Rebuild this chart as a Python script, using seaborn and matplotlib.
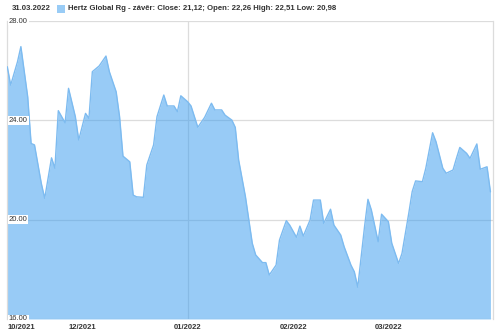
import matplotlib
matplotlib.use("Agg")
import matplotlib.pyplot as plt
import seaborn as sns
import pandas as pd

dates = [
    "2021-11-09", "2021-11-10", "2021-11-12", "2021-11-13", "2021-11-15", "2021-11-16",
    "2021-11-17", "2021-11-19", "2021-11-20", "2021-11-22", "2021-11-23", "2021-11-24",
    "2021-11-26", "2021-11-27", "2021-11-29", "2021-11-30", "2021-12-02", "2021-12-03",
    "2021-12-04", "2021-12-06", "2021-12-08", "2021-12-09", "2021-12-11", "2021-12-12",
    "2021-12-13", "2021-12-15", "2021-12-16", "2021-12-17", "2021-12-19", "2021-12-20",
    "2021-12-22", "2021-12-23", "2021-12-25", "2021-12-26", "2021-12-28", "2021-12-29",
    "2021-12-30", "2022-01-01", "2022-01-02", "2022-01-04", "2022-01-06", "2022-01-08",
    "2022-01-09", "2022-01-11", "2022-01-12", "2022-01-14", "2022-01-15", "2022-01-16",
    "2022-01-17", "2022-01-18", "2022-01-20", "2022-01-21", "2022-01-23", "2022-01-24",
    "2022-01-25", "2022-01-27", "2022-01-28", "2022-01-30", "2022-01-31", "2022-02-02",
    "2022-02-03", "2022-02-04", "2022-02-06", "2022-02-07", "2022-02-09", "2022-02-10",
    "2022-02-12", "2022-02-13", "2022-02-15", "2022-02-16", "2022-02-18", "2022-02-19",
    "2022-02-20", "2022-02-22", "2022-02-23", "2022-02-24", "2022-02-26", "2022-02-27",
    "2022-03-01", "2022-03-02", "2022-03-04", "2022-03-05", "2022-03-07", "2022-03-08",
    "2022-03-09", "2022-03-11", "2022-03-12", "2022-03-14", "2022-03-15", "2022-03-17",
    "2022-03-18", "2022-03-20", "2022-03-21", "2022-03-22", "2022-03-24", "2022-03-25",
    "2022-03-27", "2022-03-28", "2022-03-30", "2022-03-31",
]
close = [
    26.16, 25.42, 26.36, 26.97, 24.95, 23.07,
    23.01, 21.46, 20.86, 22.49, 22.07, 24.39,
    23.90, 25.29, 24.15, 23.21, 24.28, 24.08,
    25.96, 26.19, 26.59, 25.96, 25.15, 24.15,
    22.56, 22.33, 20.99, 20.92, 20.90, 22.20,
    23.01, 24.15, 25.02, 24.58, 24.58, 24.35,
    24.99, 24.75, 24.58, 23.72, 24.12, 24.69,
    24.42, 24.42, 24.21, 24.01, 23.72, 22.40,
    21.66, 20.92, 19.05, 18.58, 18.27, 18.27,
    17.77, 18.17, 19.18, 19.96, 19.78, 19.29,
    19.74, 19.34, 19.99, 20.79, 20.79, 19.85,
    20.42, 19.78, 19.38, 18.91, 18.17, 17.90,
    17.28, 19.72, 20.82, 20.39, 19.11, 20.22,
    19.92, 19.05, 18.24, 18.64, 20.26, 21.13,
    21.56, 21.53, 22.07, 23.50, 23.14, 22.07,
    21.87, 22.00, 22.47, 22.91, 22.67, 22.47,
    23.05, 22.03, 22.13, 21.12,
]
y_ticks = [16, 20, 24, 28]
x_tick_dates = ["2021-11-09", "2021-12-01", "2022-01-01", "2022-02-01", "2022-03-01"]
x_tick_labels = ["10/2021", "12/2021", "01/2022", "02/2022", "03/2022"]
header_date = "31.03.2022"
legend_text = "Hertz Global Rg - závěr: Close: 21,12; Open: 22,26 High: 22,51 Low: 20,98"

df = pd.DataFrame({"date": pd.to_datetime(dates), "close": close})

sns.set_theme(style="white")
plt.rcParams["font.family"] = ["Liberation Sans", "DejaVu Sans"]

fig = plt.figure(figsize=(5.0, 3.34), dpi=100)
ax = fig.add_axes([0.014, 0.045, 0.972, 0.892])

fill_c = "#3399ee"
line_c = "#7dbbf0"

ax.fill_between(df["date"], df["close"], 16, color=fill_c, alpha=0.5, lw=0, zorder=2)
sns.lineplot(data=df, x="date", y="close", ax=ax, color=line_c, lw=1.0, zorder=3)

ax.set_ylim(16, 28)
ax.set_xlim(pd.Timestamp("2021-11-08 22:00"), pd.Timestamp("2022-03-31 18:00"))
ax.set_xlabel("")
ax.set_ylabel("")

# grid
ax.set_yticks(y_ticks)
ax.set_yticklabels([])
ax.tick_params(axis="y", length=0)
for v in y_ticks:
    ax.axhline(v, color="#dcdcdc", lw=0.9, zorder=1)
    ax.text(0.004, v, f"{v:.2f}", transform=ax.get_yaxis_transform(),
            ha="left", va="center", fontsize=5.5, color="#333333", zorder=10,
            bbox=dict(facecolor="white", edgecolor="none", pad=0.5))
ax.axvline(pd.Timestamp("2022-01-01"), color="#dcdcdc", lw=0.9, zorder=1)

xt = pd.to_datetime(x_tick_dates)
ax.set_xticks(xt)
ax.set_xticklabels(x_tick_labels)
ax.tick_params(axis="x", length=0, pad=3.5, labelsize=5.5, labelcolor="#333333")
for i, lab in enumerate(ax.get_xticklabels()):
    lab.set_fontweight("bold")
    if i == 0:
        lab.set_ha("left")

for side in ["top", "bottom"]:
    ax.spines[side].set_visible(False)
for side in ["left", "right"]:
    ax.spines[side].set_color("#dcdcdc")
    ax.spines[side].set_linewidth(0.9)

# header
fig.text(12 / 500, 1 - 9 / 334, header_date, fontsize=5.6, fontweight="bold",
         color="#333333", va="center", ha="left")
fig.patches.append(plt.Rectangle((57 / 500, 1 - 13 / 334), 8 / 500, 8 / 334,
                                 transform=fig.transFigure, facecolor="#99ccf6",
                                 edgecolor="none", figure=fig))
fig.text(68 / 500, 1 - 9 / 334, legend_text, fontsize=5.55, fontweight="bold",
         color="#333333", va="center", ha="left")

fig.savefig("out.png", dpi=100)
